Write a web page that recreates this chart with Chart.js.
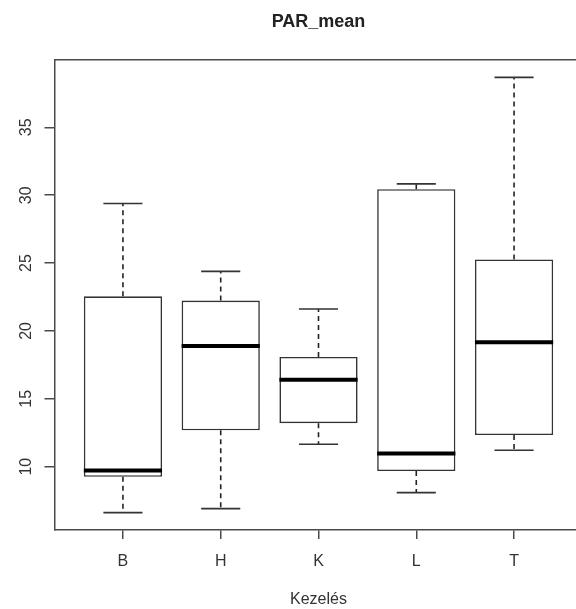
<!DOCTYPE html>
<html><head><meta charset="utf-8">
<script src="https://cdn.jsdelivr.net/npm/chart.js@4/dist/chart.umd.min.js"></script>
<style>
html,body{margin:0;padding:0;background:#fff;overflow:hidden;width:576px;height:609px}
#wrap{width:600px;height:609px}
</style></head><body>
<div id="wrap"><canvas id="c" width="600" height="609"></canvas></div>
<script>
// Treatment groups and their five-number summaries
const categories = ['B', 'H', 'K', 'L', 'T'];
const whiskerLow = [6.62, 6.91, 11.65, 8.09, 11.21];
const q1 = [9.26, 12.68, 13.21, 9.68, 12.33];
const median = [9.73, 18.90, 16.40, 10.98, 19.17];
const q3 = [22.55, 22.24, 18.09, 30.44, 25.27];
const whiskerHigh = [29.39, 24.39, 21.62, 30.84, 38.68];
const yTicks = [10, 15, 20, 25, 30, 35];
const chartTitle = 'PAR_mean';
const xTitle = 'Kezelés';

// Box half-width and staple half-width, in category units
const BOX_HALF = 0.4;
const CAP_HALF = 0.2;

// Axis ranges padded by 4% as in classic boxplots
const lo = Math.min(...whiskerLow), hi = Math.max(...whiskerHigh);
const yMin = lo - 0.04 * (hi - lo), yMax = hi + 0.04 * (hi - lo);
const xMin = 0.5 - 0.04 * categories.length, xMax = categories.length + 0.5 + 0.04 * categories.length;

const FONT = "'Liberation Sans', Arial, sans-serif";
const TEXT = '#333';
const FRAME = '#4a4a4a';

const boxes = categories.map((c, i) => ({ x: i + 1, y: [q1[i], q3[i]] }));
const gap = x => ({ x, y: null });
const medians = categories.flatMap((c, i) => [
  { x: i + 1 - BOX_HALF, y: median[i] }, { x: i + 1 + BOX_HALF, y: median[i] }, gap(i + 1.5)]);
const whiskers = categories.flatMap((c, i) => [
  { x: i + 1, y: q3[i] }, { x: i + 1, y: whiskerHigh[i] }, gap(i + 1.1),
  { x: i + 1, y: q1[i] }, { x: i + 1, y: whiskerLow[i] }, gap(i + 1.5)]);
const caps = categories.flatMap((c, i) => [
  { x: i + 1 - CAP_HALF, y: whiskerHigh[i] }, { x: i + 1 + CAP_HALF, y: whiskerHigh[i] }, gap(i + 1.3),
  { x: i + 1 - CAP_HALF, y: whiskerLow[i] }, { x: i + 1 + CAP_HALF, y: whiskerLow[i] }, gap(i + 1.5)]);

const lineBase = { type: 'line', pointRadius: 0, tension: 0, spanGaps: false, fill: false };

new Chart(document.getElementById('c'), {
  data: {
    datasets: [
      { type: 'bar', data: boxes, backgroundColor: '#fff', borderColor: '#333', borderWidth: 1.6,
        borderSkipped: false, categoryPercentage: 1, barPercentage: 2 * BOX_HALF, order: 4 },
      { ...lineBase, data: whiskers, borderColor: '#222', borderWidth: 1.6, borderDash: [5, 4], order: 3 },
      { ...lineBase, data: caps, borderColor: '#333', borderWidth: 1.6, order: 2 },
      { ...lineBase, data: medians, borderColor: '#000', borderWidth: 4, borderCapStyle: 'butt', order: 1 }
    ]
  },
  options: {
    responsive: false,
    animation: false,
    devicePixelRatio: 1,
    layout: { padding: { left: 0, right: 17.5, top: 0, bottom: 0 } },
    plugins: { legend: { display: false }, tooltip: { enabled: false }, title: { display: false } },
    scales: {
      x: {
        type: 'linear', position: 'bottom', min: xMin, max: xMax, offset: false,
        afterBuildTicks: s => { s.ticks = categories.map((c, i) => ({ value: i + 1 })); },
        afterFit: s => { s.height = 79; },
        ticks: { callback: (v, i) => categories[i], color: TEXT, font: { family: FONT, size: 16 }, padding: 13,
                 autoSkip: false, maxRotation: 0 },
        grid: { offset: false, drawOnChartArea: false, tickLength: 9, color: FRAME, lineWidth: 1.5 },
        border: { display: true, color: FRAME, width: 1.5 },
        title: { display: true, text: xTitle, color: TEXT, font: { family: FONT, size: 16 }, padding: { top: 0, bottom: 0 } }
      },
      xTop: {
        type: 'linear', position: 'top', min: xMin, max: xMax, offset: false,
        afterFit: s => { s.height = 60; },
        ticks: { display: false },
        grid: { display: false },
        border: { display: true, color: FRAME, width: 1.5 },
        title: { display: true, text: chartTitle, color: '#222', font: { family: FONT, size: 18, weight: 'bold' }, padding: { top: 11, bottom: 0 } }
      },
      y: {
        type: 'linear', position: 'left', min: yMin, max: yMax,
        afterBuildTicks: s => { s.ticks = yTicks.map(v => ({ value: v })); },
        afterFit: s => { s.width = 54.5; },
        ticks: { color: TEXT, font: { family: FONT, size: 16 }, minRotation: 90, maxRotation: 90,
                 crossAlign: 'center', padding: 9 },
        grid: { drawOnChartArea: false, tickLength: 10, color: FRAME, lineWidth: 1.5 },
        border: { display: true, color: FRAME, width: 1.5 }
      }
    }
  }
});
</script>
</body></html>
